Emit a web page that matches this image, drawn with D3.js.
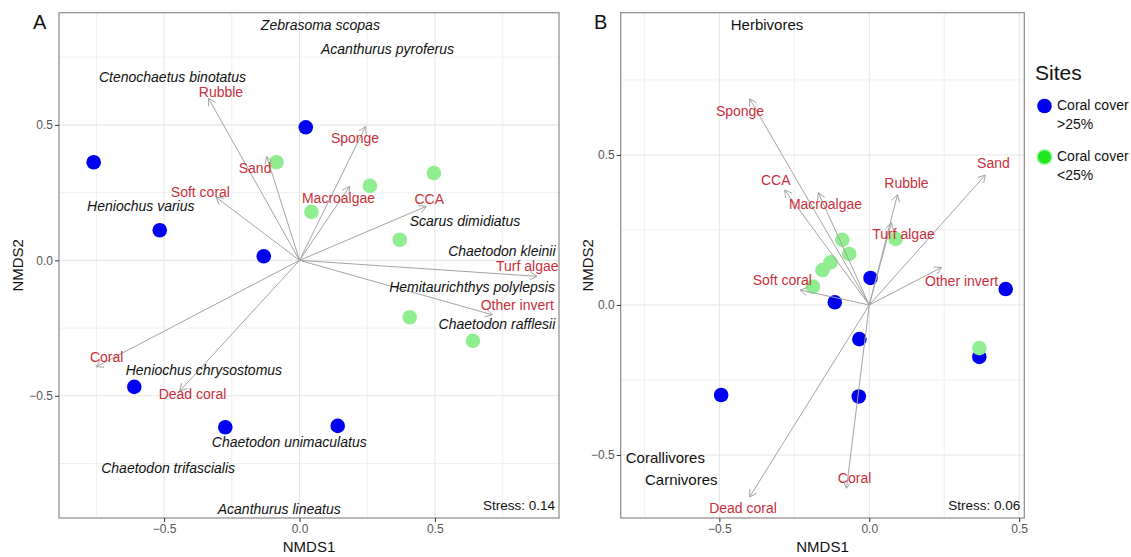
<!DOCTYPE html>
<html>
<head>
<meta charset="utf-8">
<script src="https://cdn.jsdelivr.net/npm/d3@7"></script>
<style>
  body { margin: 0; background: #fff; }
  svg { font-family: "Liberation Sans", Arial, sans-serif; }
</style>
</head>
<body>
<div id="chart"></div>
<script>
// ---- data ----

// panel A: sites
var aSiteX = [-0.760, -0.516, -0.132, 0.023, -0.610, -0.274, 0.141, -0.085, 0.260, 0.496, 0.044, 0.370, 0.407, 0.640];
var aSiteY = [0.362, 0.111, 0.015, 0.491, -0.467, -0.616, -0.611, 0.362, 0.275, 0.322, 0.179, 0.076, -0.210, -0.297];
var aSiteCover = ["high", "high", "high", "high", "high", "high", "high", "low", "low", "low", "low", "low", "low", "low"];

// panel A: benthic vectors
var aVecNames = ["Rubble", "Sand", "Soft coral", "Sponge", "Macroalgae", "CCA", "Turf algae", "Other invert", "Coral", "Dead coral"];
var aVecX = [-0.336, -0.121, -0.308, 0.244, 0.185, 0.468, 0.877, 0.712, -0.751, -0.442];
var aVecY = [0.598, 0.383, 0.233, 0.494, 0.273, 0.199, -0.059, -0.201, -0.393, -0.482];
var aVecLabX = [-0.290, -0.164, -0.366, 0.205, 0.144, 0.479, 0.841, 0.804, -0.712, -0.395];
var aVecLabY = [0.623, 0.340, 0.252, 0.451, 0.230, 0.227, -0.022, -0.163, -0.356, -0.494];

// panel A: fish species
var aSpecies = ["Zebrasoma scopas", "Acanthurus pyroferus", "Ctenochaetus binotatus", "Heniochus varius",
  "Scarus dimidiatus", "Chaetodon kleinii", "Hemitaurichthys polylepsis", "Chaetodon rafflesii",
  "Heniochus chrysostomus", "Chaetodon unimaculatus", "Chaetodon trifascialis", "Acanthurus lineatus"];
var aSpX = [0.077, 0.325, -0.469, -0.586, 0.611, 0.747, 0.637, 0.729, -0.353, -0.038, -0.485, -0.075];
var aSpY = [0.869, 0.780, 0.676, 0.199, 0.146, 0.033, -0.097, -0.234, -0.405, -0.672, -0.765, -0.916];
var aStress = "Stress: 0.14";

// panel B: sites
var bSiteX = [0.004, -0.115, 0.455, -0.033, 0.367, -0.494, -0.035, 0.367, -0.090, -0.067, -0.129, -0.156, -0.188, 0.088];
var bSiteY = [0.090, 0.009, 0.053, -0.114, -0.173, -0.300, -0.305, -0.144, 0.217, 0.170, 0.142, 0.116, 0.061, 0.220];
var bSiteCover = ["high", "high", "high", "high", "high", "high", "high", "low", "low", "low", "low", "low", "low", "low"];

// panel B: benthic vectors
var bVecNames = ["Sponge", "CCA", "Macroalgae", "Rubble", "Turf algae", "Sand", "Other invert", "Soft coral", "Dead coral", "Coral"];
var bVecX = [-0.399, -0.282, -0.170, 0.094, 0.074, 0.387, 0.241, -0.231, -0.399, -0.076];
var bVecY = [0.687, 0.383, 0.374, 0.368, 0.274, 0.433, 0.125, 0.050, -0.640, -0.611];
var bVecLabX = [-0.431, -0.312, -0.146, 0.124, 0.114, 0.414, 0.308, -0.290, -0.421, -0.049];
var bVecLabY = [0.645, 0.418, 0.336, 0.407, 0.235, 0.474, 0.081, 0.084, -0.678, -0.578];

// panel B: trophic groups
var bGroups = ["Herbivores", "Corallivores", "Carnivores"];
var bGroupX = [-0.341, -0.680, -0.627];
var bGroupY = [0.936, -0.509, -0.583];
var bStress = "Stress: 0.06";

// ticks
var majorTicks = [-0.5, 0, 0.5];
var minorTicks = [-0.75, -0.25, 0.25, 0.75];

// legend
var legendTitle = "Sites";
var legendKeys = ["high", "low"];
var legendLines = [["Coral cover", ">25%"], ["Coral cover", "<25%"]];

// ---- drawing ----
var W = 1131, H = 557;
var pointColor = { high: "#0000f0", low: "#90ee90" };
var keyColor = { high: "#0000f0", low: "#22e622" };
var red = "#c9303b";
var fmt = function (d) { return d === 0 ? "0.0" : d3.format(".1f")(d).replace("-", "\u2212"); };

var svg = d3.select("#chart").append("svg")
  .attr("width", W)
  .attr("height", H);

function zip(xs, ys, extra) {
  return xs.map(function (x, i) {
    var o = { x: x, y: ys[i] };
    if (extra) for (var k in extra) o[k] = extra[k][i];
    return o;
  });
}

function drawPanel(p) {
  var x = d3.scaleLinear().domain(p.xDomain).range([p.left, p.right]);
  var y = d3.scaleLinear().domain(p.yDomain).range([p.bottom, p.top]);
  var g = svg.append("g");

  // grid
  var inX = function (v) { return v > p.xDomain[0] && v < p.xDomain[1]; };
  var inY = function (v) { return v > p.yDomain[0] && v < p.yDomain[1]; };
  g.selectAll(".vminor").data(minorTicks.filter(inX)).enter().append("line")
    .attr("x1", d => x(d)).attr("x2", d => x(d))
    .attr("y1", p.top).attr("y2", p.bottom)
    .attr("stroke", "#f0f0f0").attr("stroke-width", 1);
  g.selectAll(".hminor").data(minorTicks.filter(inY)).enter().append("line")
    .attr("y1", d => y(d)).attr("y2", d => y(d))
    .attr("x1", p.left).attr("x2", p.right)
    .attr("stroke", "#f0f0f0").attr("stroke-width", 1);
  g.selectAll(".vmajor").data(majorTicks).enter().append("line")
    .attr("x1", d => x(d)).attr("x2", d => x(d))
    .attr("y1", p.top).attr("y2", p.bottom)
    .attr("stroke", "#e6e6e6").attr("stroke-width", 1.1);
  g.selectAll(".hmajor").data(majorTicks).enter().append("line")
    .attr("y1", d => y(d)).attr("y2", d => y(d))
    .attr("x1", p.left).attr("x2", p.right)
    .attr("stroke", "#e6e6e6").attr("stroke-width", 1.1);

  // points (arrows go on top)
  var pts = zip(p.siteX, p.siteY, { c: p.siteCover });
  pts.sort(function (a, b) { return (a.c === "low") - (b.c === "low"); });
  g.selectAll("circle.site").data(pts).enter().append("circle")
    .attr("cx", d => x(d.x)).attr("cy", d => y(d.y))
    .attr("r", 7.3)
    .attr("fill", d => pointColor[d.c]);

  // vectors
  var vecs = zip(p.vecX, p.vecY, { name: p.vecNames, lx: p.vecLabX, ly: p.vecLabY });
  var arrows = g.selectAll("g.vec").data(vecs).enter().append("g");
  arrows.append("line")
    .attr("x1", x(0)).attr("y1", y(0))
    .attr("x2", d => x(d.x)).attr("y2", d => y(d.y))
    .attr("stroke", "#a3a3a3").attr("stroke-width", 1);
  arrows.append("path")
    .attr("d", function (d) {
      var tx = x(d.x), ty = y(d.y);
      var a = Math.atan2(ty - y(0), tx - x(0));
      var len = 8, sp = Math.PI / 6;
      return "M" + (tx - len * Math.cos(a - sp)) + "," + (ty - len * Math.sin(a - sp)) +
        "L" + tx + "," + ty +
        "L" + (tx - len * Math.cos(a + sp)) + "," + (ty - len * Math.sin(a + sp));
    })
    .attr("fill", "none").attr("stroke", "#a3a3a3").attr("stroke-width", 1);
  g.selectAll("text.vlab").data(vecs).enter().append("text")
    .attr("x", d => x(d.lx)).attr("y", d => y(d.ly))
    .attr("text-anchor", "middle").attr("dominant-baseline", "central")
    .attr("font-size", 14).attr("fill", red)
    .text(d => d.name);

  // species / group labels
  var labs = zip(p.labX, p.labY, { t: p.labText });
  g.selectAll("text.lab").data(labs).enter().append("text")
    .attr("x", d => x(d.x)).attr("y", d => y(d.y))
    .attr("text-anchor", "middle").attr("dominant-baseline", "central")
    .attr("font-size", p.labSize).attr("font-style", p.labItalic ? "italic" : "normal")
    .attr("fill", "#111")
    .text(d => d.t);

  // stress
  g.append("text")
    .attr("x", p.right - 4).attr("y", p.bottom - 13)
    .attr("text-anchor", "end").attr("dominant-baseline", "central")
    .attr("font-size", 13.5).attr("fill", "#111")
    .text(p.stress);

  // border
  g.append("rect")
    .attr("x", p.left).attr("y", p.top)
    .attr("width", p.right - p.left).attr("height", p.bottom - p.top)
    .attr("fill", "none").attr("stroke", "#8a8a8a").attr("stroke-width", 1.2);

  // axes
  var xa = g.append("g").attr("transform", "translate(0," + p.bottom + ")")
    .call(d3.axisBottom(x).tickValues(majorTicks).tickFormat(fmt).tickSize(4).tickPadding(2));
  var ya = g.append("g").attr("transform", "translate(" + p.left + ",0)")
    .call(d3.axisLeft(y).tickValues(majorTicks).tickFormat(fmt).tickSize(4).tickPadding(2));
  [xa, ya].forEach(function (a) {
    a.select(".domain").remove();
    a.selectAll(".tick line").attr("stroke", "#333");
    a.selectAll(".tick text").attr("fill", "#555").attr("font-size", 12)
      .attr("font-family", "Liberation Sans, Arial, sans-serif");
  });

  g.append("text")
    .attr("x", (p.left + p.right) / 2).attr("y", 546)
    .attr("text-anchor", "middle").attr("dominant-baseline", "central")
    .attr("font-size", 15).attr("fill", "#111")
    .text("NMDS1");
  g.append("text")
    .attr("transform", "translate(" + p.yTitleX + "," + ((p.top + p.bottom) / 2) + ") rotate(-90)")
    .attr("text-anchor", "middle").attr("dominant-baseline", "central")
    .attr("font-size", 15).attr("fill", "#111")
    .text("NMDS2");

  g.append("text")
    .attr("x", p.tagX).attr("y", 22)
    .attr("dominant-baseline", "central")
    .attr("font-size", 20).attr("fill", "#111")
    .text(p.tag);
}

drawPanel({
  tag: "A", tagX: 33, yTitleX: 17,
  left: 59, right: 559, top: 12.7, bottom: 518,
  xDomain: [-0.888, 0.958], yDomain: [-0.951, 0.914],
  siteX: aSiteX, siteY: aSiteY, siteCover: aSiteCover,
  vecNames: aVecNames, vecX: aVecX, vecY: aVecY, vecLabX: aVecLabX, vecLabY: aVecLabY,
  labText: aSpecies, labX: aSpX, labY: aSpY, labSize: 14, labItalic: true,
  stress: aStress
});

drawPanel({
  tag: "B", tagX: 594, yTitleX: 587,
  left: 620.7, right: 1024.3, top: 12.7, bottom: 518,
  xDomain: [-0.829, 0.517], yDomain: [-0.71, 0.974],
  siteX: bSiteX, siteY: bSiteY, siteCover: bSiteCover,
  vecNames: bVecNames, vecX: bVecX, vecY: bVecY, vecLabX: bVecLabX, vecLabY: bVecLabY,
  labText: bGroups, labX: bGroupX, labY: bGroupY, labSize: 15, labItalic: false,
  stress: bStress
});

// legend
var lg = svg.append("g");
lg.append("text")
  .attr("x", 1035).attr("y", 72)
  .attr("dominant-baseline", "central")
  .attr("font-size", 21).attr("fill", "#111")
  .text(legendTitle);
var items = lg.selectAll("g.item").data(legendKeys).enter().append("g")
  .attr("transform", (d, i) => "translate(0," + (106 + i * 51) + ")");
items.append("circle")
  .attr("cx", 1044.5).attr("cy", 0).attr("r", 7.3)
  .attr("fill", d => keyColor[d])
  .attr("stroke", d => d === "low" ? "#9ef59e" : "none").attr("stroke-width", 1.5);
items.append("text")
  .attr("x", 1057).attr("y", -1)
  .attr("dominant-baseline", "central")
  .attr("font-size", 14).attr("fill", "#111")
  .selectAll("tspan").data((d, i) => legendLines[i]).enter().append("tspan")
  .attr("x", 1057).attr("dy", (d, j) => j === 0 ? 0 : 19)
  .text(d => d);
</script>
</body>
</html>
